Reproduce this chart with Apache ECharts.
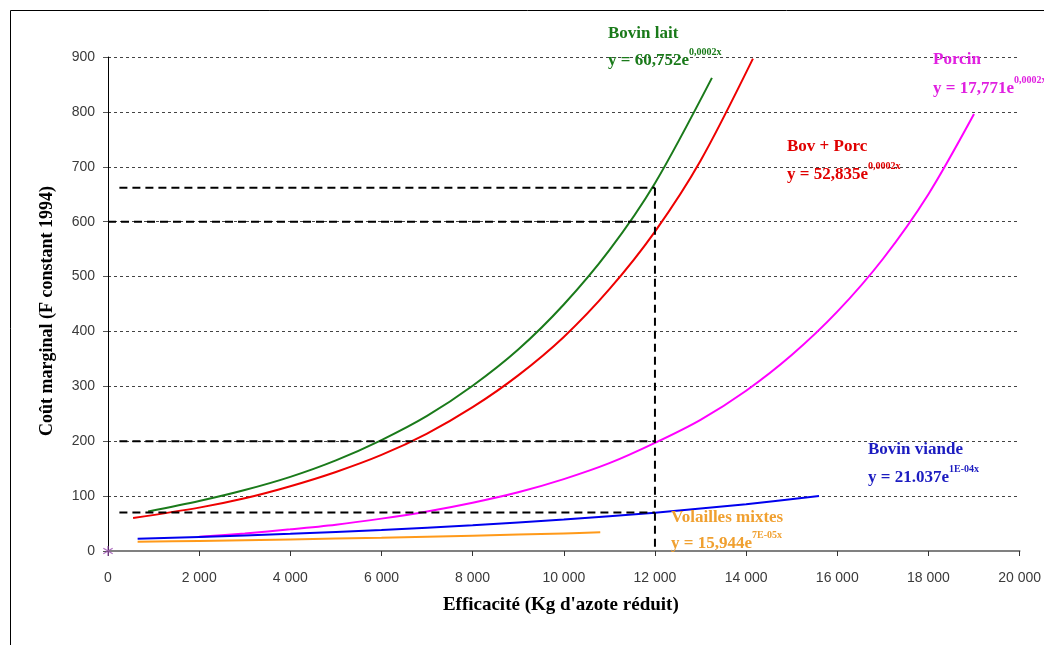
<!DOCTYPE html>
<html>
<head>
<meta charset="utf-8">
<script src="https://cdn.jsdelivr.net/npm/echarts@6/dist/echarts.min.js"></script>
<style>html,body{margin:0;padding:0;background:#fff;}#c{width:1044px;height:645px;}</style>
</head>
<body>
<div id="c"></div>
<script>
// ---- data ----
const xTicks = [0, 2000, 4000, 6000, 8000, 10000, 12000, 14000, 16000, 18000, 20000];
const yTicks = [0, 100, 200, 300, 400, 500, 600, 700, 800, 900];

const bovinLaitX = [880, 2000, 3000, 4000, 5000, 6000, 7000, 8000, 9000, 10000, 11000, 12000, 13250];
const bovinLaitY = [72, 91, 111, 135, 165, 202, 246, 301, 367, 449, 548, 670, 862];

const bovPorcX = [550, 2000, 3000, 4000, 5000, 6000, 7000, 8000, 9000, 10000, 11000, 12000, 13000, 14150];
const bovPorcY = [60, 79, 96, 118, 144, 175, 214, 262, 320, 390, 477, 582, 711, 897];

const porcinX = [2000, 3000, 4000, 5000, 6000, 7000, 8000, 9000, 10000, 11000, 12000, 13000, 14000, 15000, 16000, 17000, 18000, 19000];
const porcinY = [26, 32, 39.5, 48, 59, 72, 88, 107, 131, 160, 197, 239, 292, 357, 436, 532, 650, 796];

const bovinViandeX = [650, 2000, 4000, 6000, 8000, 10000, 12000, 14000, 15600];
const bovinViandeY = [22.4, 25.7, 31.4, 38.3, 46.8, 57.2, 69.8, 85.3, 100];

const volaillesX = [650, 2000, 4000, 6000, 8000, 10000, 10800];
const volaillesY = [16.7, 18.3, 21.1, 24.2, 27.9, 32.1, 34];

// dashed reading guides at x = 12000
const guideX = 12000;
const guideLevels = [662, 600, 200, 70];
const guideStarts = [250, 0, 250, 250];

const originMark = [[0, 0]];

// ---- chart ----
const pairs = (xs, ys) => xs.map((x, i) => [x, ys[i]]);
const fmt = v => String(v).replace(/\B(?=(\d{3})+(?!\d))/g, ' ');

const curve = (name, xs, ys, color) => ({
  name, type: 'line', data: pairs(xs, ys), smooth: 0.3, symbol: 'none',
  lineStyle: { color, width: 2 }, z: 3, animation: false
});

const guideSeries = guideLevels.map((lv, i) => ({
  type: 'line', symbol: 'none', silent: true, animation: false, z: 4,
  data: [[guideStarts[i], lv], [guideX, lv]],
  lineStyle: { color: '#000', width: 2, type: [8, 5] }
}));
guideSeries.push({
  type: 'line', symbol: 'none', silent: true, animation: false, z: 4,
  data: [[guideX, guideLevels[0]], [guideX, 0]],
  lineStyle: { color: '#000', width: 2, type: [8, 5] }
});

const serif = '"Liberation Serif", "DejaVu Serif", serif';
const sans = '"Liberation Sans", Arial, sans-serif';

function ann(x, y, color, text) {
  return { type: 'text', x, y, z: 10, style: { text, fill: color, font: 'bold 17px ' + serif, textVerticalAlign: 'middle' } };
}
function eq(x, y, color, main, sup) {
  return {
    type: 'text', x, y, z: 10,
    style: {
      text: '{m|' + main + '}{s|' + sup + '}',
      fill: color,
      textVerticalAlign: 'middle',
      rich: {
        m: { fontFamily: serif, fontWeight: 'bold', fontSize: 17, fill: color, color, lineHeight: 22, verticalAlign: 'bottom' },
        s: { fontFamily: serif, fontWeight: 'bold', fontSize: 10, fill: color, color, lineHeight: 22, verticalAlign: 'top' }
      }
    }
  };
}

const asteriskPath = 'path://M-0.6,-5L0.6,-5L0.6,5L-0.6,5Z' +
  'M-4.6,-2.2L-4.0,-3.2L4.6,2.2L4.0,3.2Z' +
  'M-4.6,2.2L-4.0,3.2L4.6,-2.2L4.0,-3.2Z';

const chart = echarts.init(document.getElementById('c'), null, { renderer: 'canvas' });
chart.setOption({
  backgroundColor: '#fff',
  animation: false,
  grid: { left: 108, right: 22, top: 57, bottom: 94, containLabel: false },
  xAxis: {
    type: 'value', min: xTicks[0], max: xTicks[xTicks.length - 1], interval: xTicks[1] - xTicks[0],
    name: "Efficacité (Kg d'azote réduit)", nameLocation: 'middle', nameGap: 45,
    nameTextStyle: { fontFamily: serif, fontWeight: 'bold', fontSize: 19, color: '#000', padding: [0, 6, 0, 0] },
    axisLine: { onZero: false, lineStyle: { color: '#808080', width: 2 } },
    axisTick: { show: true, length: 5, lineStyle: { color: '#333' } },
    axisLabel: { margin: 20, fontFamily: sans, fontSize: 14, color: '#3a3a3a', formatter: fmt },
    splitLine: { show: false }
  },
  yAxis: {
    type: 'value', min: yTicks[0], max: yTicks[yTicks.length - 1], interval: yTicks[1] - yTicks[0],
    axisLine: { show: true, onZero: false, lineStyle: { color: '#000', width: 1 } },
    axisTick: { show: true, length: 5, lineStyle: { color: '#555' } },
    axisLabel: { margin: 13, fontFamily: sans, fontSize: 14, color: '#3a3a3a' },
    splitLine: { show: true, lineStyle: { color: '#444', width: 1, type: [3, 3] } }
  },
  series: [
    curve('Porcin', porcinX, porcinY, '#ff00ff'),
    curve('Bovin viande', bovinViandeX, bovinViandeY, '#0000ee'),
    curve('Volailles mixtes', volaillesX, volaillesY, '#ff9a1a'),
    curve('Bov + Porc', bovPorcX, bovPorcY, '#ee0000'),
    curve('Bovin lait', bovinLaitX, bovinLaitY, '#1a7a1a'),
    ...guideSeries,
    {
      type: 'scatter', data: originMark, symbol: asteriskPath, symbolSize: 10, silent: true, z: 6,
      itemStyle: { color: '#9a4cb0' }
    }
  ],
  graphic: [
    { type: 'rect', z: 0, silent: true, shape: { x: 10.5, y: 10.5, width: 1100, height: 700 }, style: { fill: 'none', stroke: '#000', lineWidth: 1 } },
    { type: 'text', x: 47, y: 311, rotation: Math.PI / 2, z: 10, silent: true,
      style: { text: 'Coût marginal (F constant 1994)', fill: '#000', font: 'bold 18px ' + serif, textAlign: 'center', textVerticalAlign: 'middle' } },
    ann(608, 34, '#1a7a1a', 'Bovin lait'),
    eq(608, 58, '#1a7a1a', 'y = 60,752e', '0,0002x'),
    ann(933, 60, '#e020e0', 'Porcin'),
    eq(933, 86, '#e020e0', 'y = 17,771e', '0,0002x'),
    ann(787, 147, '#e00000', 'Bov + Porc'),
    eq(787, 172, '#e00000', 'y = 52,835e', '0,0002x'),
    ann(868, 450, '#1c1cc0', 'Bovin viande'),
    eq(868, 475, '#1c1cc0', 'y = 21.037e', '1E-04x'),
    ann(671, 518, '#f0a030', 'Volailles mixtes'),
    eq(671, 541, '#f0a030', 'y = 15,944e', '7E-05x')
  ]
});
</script>
</body>
</html>
